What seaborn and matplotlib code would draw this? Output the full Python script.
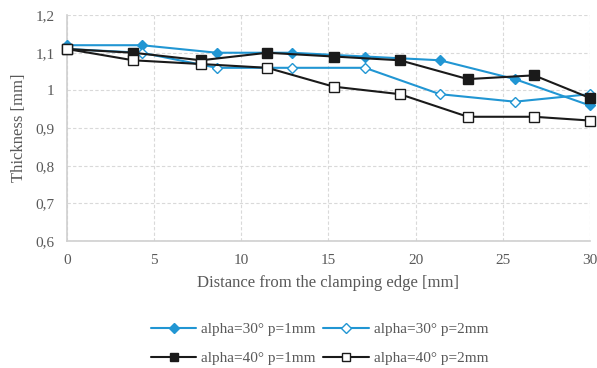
import numpy as np
import pandas as pd
import matplotlib
matplotlib.use("Agg")
import matplotlib.pyplot as plt
from matplotlib.ticker import FuncFormatter
import seaborn as sns

# --- data ---
x_30 = [0, 4.3, 8.6, 12.9, 17.1, 21.4, 25.7, 30]
t_30_p1 = [1.12, 1.12, 1.10, 1.10, 1.09, 1.08, 1.03, 0.96]
t_30_p2 = [1.11, 1.10, 1.06, 1.06, 1.06, 0.99, 0.97, 0.99]

x_40 = [0, 3.8, 7.7, 11.5, 15.3, 19.1, 23.0, 26.8, 30]
t_40_p1 = [1.11, 1.10, 1.08, 1.10, 1.09, 1.08, 1.03, 1.04, 0.98]
t_40_p2 = [1.11, 1.08, 1.07, 1.06, 1.01, 0.99, 0.93, 0.93, 0.92]

labels = ["alpha=30° p=1mm", "alpha=30° p=2mm", "alpha=40° p=1mm", "alpha=40° p=2mm"]

BLUE = "#2196d3"
DARK = "#1a1a1a"
GREY_TXT = "#595959"

sns.set_theme(style="white")
plt.rcParams["font.family"] = ["Liberation Serif", "DejaVu Serif"]

fig = plt.figure(figsize=(5.97, 3.68), dpi=100)
ax = fig.add_axes([0.112, 0.345, 0.876, 0.614])

series = [
    (x_30, t_30_p1, labels[0], BLUE, "D", BLUE, 5.5),
    (x_30, t_30_p2, labels[1], BLUE, "D", "white", 5.5),
    (x_40, t_40_p1, labels[2], DARK, "s", DARK, 6.5),
    (x_40, t_40_p2, labels[3], DARK, "s", "white", 7.5),
]

for xs, ys, lab, col, mk, fc, ms in series:
    df = pd.DataFrame({"x": xs, "y": ys})
    sns.lineplot(data=df, x="x", y="y", ax=ax, color=col, lw=1.5,
                 marker=mk, markersize=ms, markerfacecolor=fc,
                 markeredgecolor=col, markeredgewidth=1.0, label=lab,
                 clip_on=False, zorder=3)

ax.set_xlim(0, 30)
ax.set_ylim(0.6, 1.2)
ax.set_xticks([0, 5, 10, 15, 20, 25, 30])
ax.set_yticks(np.arange(0.6, 1.21, 0.1))
ax.yaxis.set_major_formatter(FuncFormatter(lambda v, p: f"{v:.1f}".rstrip("0").rstrip(".").replace(".", ",")))

ax.grid(True, color="#d9d9d9", linestyle=(0, (3, 2)), lw=0.8)
for s in ["top", "right"]:
    ax.spines[s].set_visible(False)
for s in ["left", "bottom"]:
    ax.spines[s].set_color("#cfcfcf")
    ax.spines[s].set_linewidth(1.2)

ax.tick_params(axis="both", labelsize=11, labelcolor=GREY_TXT, length=0, pad=9)
ax.set_xlabel("Distance from the clamping edge [mm]", fontsize=12, color=GREY_TXT, labelpad=6)
ax.set_ylabel("Thickness [mm]", fontsize=12, color=GREY_TXT, labelpad=6)

handles, labs = ax.get_legend_handles_labels()
ax.get_legend().remove()
order = [0, 2, 1, 3]
fig.legend([handles[i] for i in order], [labs[i] for i in order],
           loc="lower center", bbox_to_anchor=(0.535, -0.03), ncol=2, frameon=False,
           fontsize=11, labelcolor=GREY_TXT, handlelength=3.0, handletextpad=0.3,
           columnspacing=0.5, labelspacing=1.0, markerscale=0.85)

fig.savefig("out.png", dpi=100)
